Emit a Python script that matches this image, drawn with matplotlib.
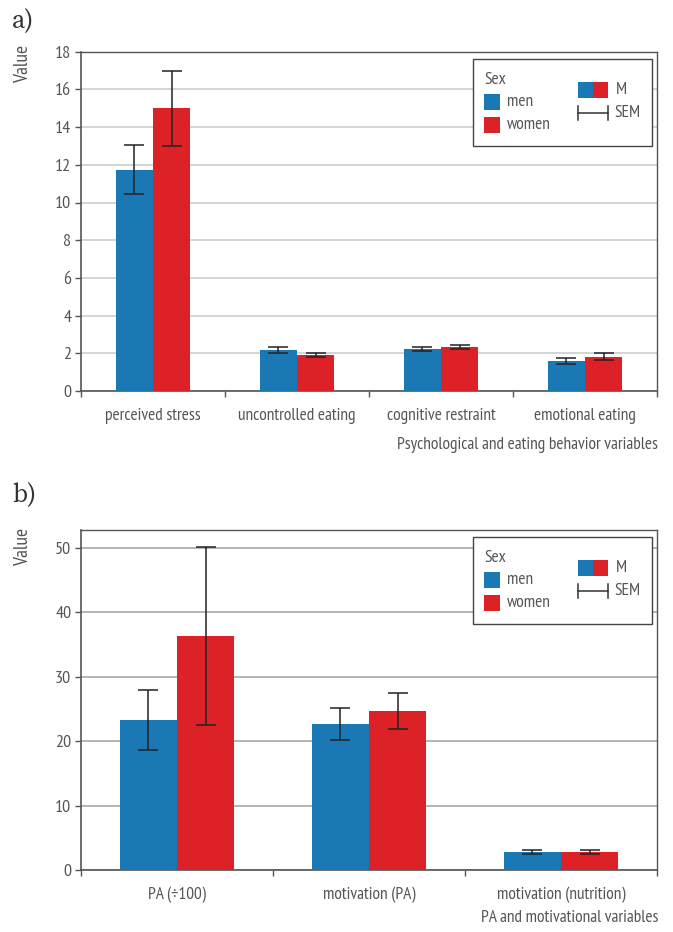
import matplotlib
matplotlib.use("Agg")
import matplotlib.pyplot as plt
from matplotlib.patches import Rectangle
import numpy as np

# ---- data ----
cats_a = ["perceived stress", "uncontrolled eating", "cognitive restraint", "emotional eating"]
men_a = [11.75, 2.18, 2.22, 1.59]
men_a_sem = [1.3, 0.15, 0.11, 0.17]
women_a = [15.0, 1.91, 2.33, 1.82]
women_a_sem = [2.0, 0.13, 0.12, 0.2]

cats_b = ["PA (\u00f7100)", "motivation (PA)", "motivation (nutrition)"]
men_b = [23.3, 22.7, 2.8]
men_b_sem = [4.7, 2.5, 0.3]
women_b = [36.3, 24.7, 2.8]
women_b_sem = [13.85, 2.8, 0.3]

yticks_a = [0, 2, 4, 6, 8, 10, 12, 14, 16, 18]
yticks_b = [0, 10, 20, 30, 40, 50]

xlabel_a = "Psychological and eating behavior variables"
xlabel_b = "PA and motivational variables"

BLUE = "#1a78b4"
RED = "#dc2227"
TXT = "#555555"

plt.rcParams["font.family"] = ["PT Sans Narrow", "DejaVu Sans"]
FS = 12.5

W, H = 673, 932
fig = plt.figure(figsize=(W / 100, H / 100), dpi=100)


def ax_rect(x0, y0, x1, y1):
    return [x0 / W, 1 - y1 / H, (x1 - x0) / W, (y1 - y0) / H]


def panel(rect, cats, men, men_sem, women, women_sem, ylim, yticks, xlabel, bw, letter, letter_y, xlab_y,
          grid_color, vlabel_off):
    ax = fig.add_axes(rect)
    n = len(cats)
    x = np.arange(n)
    ax.bar(x - bw / 2, men, bw, color=BLUE, zorder=3)
    ax.bar(x + bw / 2, women, bw, color=RED, zorder=3)
    ek = dict(fmt="none", ecolor="#222222", elinewidth=1.1, capsize=7, capthick=1.1, zorder=4)
    ax.errorbar(x - bw / 2, men, yerr=men_sem, **ek)
    ax.errorbar(x + bw / 2, women, yerr=women_sem, **ek)
    ax.set_xlim(-0.5, n - 0.5)
    ax.set_ylim(*ylim)
    ax.set_yticks(yticks)
    ax.yaxis.grid(True, color=grid_color, linewidth=1.2, zorder=0)
    ax.set_axisbelow(True)
    ax.set_xticks(np.arange(n + 1) - 0.5, minor=False)
    ax.set_xticklabels([])
    ax.set_xticks(x, minor=True)
    ax.set_xticklabels(cats, minor=True)
    ax.tick_params(axis="x", which="major", length=4, width=1, color="#555555", direction="out")
    ax.tick_params(axis="x", which="minor", length=0, pad=12, labelsize=FS, labelcolor=TXT)
    ax.tick_params(axis="y", length=4, width=1, color="#555555", labelsize=13, labelcolor=TXT, pad=3)
    for s in ["left", "bottom"]:
        ax.spines[s].set_color("#555555")
        ax.spines[s].set_linewidth(1.2)
    for s in ["top", "right"]:
        ax.spines[s].set_color("#555555")
        ax.spines[s].set_linewidth(1.0)
    ax.set_ylabel("Value", fontsize=14, color=TXT, rotation=90)
    ax.yaxis.set_label_coords(-0.10, 1.0 - vlabel_off / (rect[3] * H))
    ax.yaxis.label.set_va("center")
    fig.text(658 / W, 1 - xlab_y / H, xlabel, ha="right", va="center", fontsize=FS, color=TXT)
    fig.text(12 / W, 1 - letter_y / H, letter, ha="left", va="center", fontsize=19, color="#333333",
             family=["Source Serif 4", "Liberation Serif", "DejaVu Serif"])
    return ax


def legend(box):
    x0, y0, x1, y1 = box
    fx = lambda px: px / W
    fy = lambda py: 1 - py / H
    fig.patches.append(Rectangle((fx(x0), fy(y1)), (x1 - x0) / W, (y1 - y0) / H, transform=fig.transFigure,
                                 facecolor="white", edgecolor="#444444", linewidth=1.0, zorder=5))
    fig.text(fx(x0 + 11), fy(y0 + 21), "Sex", fontsize=FS, color=TXT, va="center", ha="left", zorder=6)
    for i, (c, lab) in enumerate([(BLUE, "men"), (RED, "women")]):
        yc = y0 + 43 + i * 23
        fig.patches.append(Rectangle((fx(x0 + 11), fy(yc + 8)), 16 / W, 16 / H, transform=fig.transFigure,
                                     facecolor=c, edgecolor="none", zorder=6))
        fig.text(fx(x0 + 34), fy(yc), lab, fontsize=FS, color=TXT, va="center", ha="left", zorder=6)
    yc = y0 + 31
    fig.patches.append(Rectangle((fx(x0 + 105), fy(yc + 8)), 15 / W, 16 / H, transform=fig.transFigure,
                                 facecolor=BLUE, edgecolor="none", zorder=6))
    fig.patches.append(Rectangle((fx(x0 + 120), fy(yc + 8)), 15 / W, 16 / H, transform=fig.transFigure,
                                 facecolor=RED, edgecolor="none", zorder=6))
    fig.text(fx(x0 + 143), fy(yc), "M", fontsize=FS, color=TXT, va="center", ha="left", zorder=6)
    yc = y0 + 54
    fig.add_artist(plt.Line2D([fx(x0 + 105), fx(x0 + 135)], [fy(yc), fy(yc)], color="#333333", lw=1.1,
                              transform=fig.transFigure, zorder=7))
    for xx in (x0 + 105, x0 + 135):
        fig.add_artist(plt.Line2D([fx(xx), fx(xx)], [fy(yc - 7), fy(yc + 7)], color="#333333", lw=1.1,
                                  transform=fig.transFigure, zorder=7))
    fig.text(fx(x0 + 141), fy(yc), "SEM", fontsize=FS, color=TXT, va="center", ha="left", zorder=6)


rect_a = ax_rect(81, 51.7, 657, 391)
ax_a = panel(rect_a, cats_a, men_a, men_a_sem, women_a, women_a_sem, (0, 18), yticks_a, xlabel_a,
             0.26, "a)", 22, 445, "#cdcdcd", 12)
legend((473, 59, 652, 146))

rect_b = ax_rect(81, 530, 657, 870)
top_b = 50 * (870 - 530) / (870 - 547.7)
ax_b = panel(rect_b, cats_b, men_b, men_b_sem, women_b, women_b_sem, (0, top_b), yticks_b, xlabel_b,
             0.297, "b)", 496, 918, "#a8a8a8", 17)
legend((473, 537, 652, 624))

fig.savefig("out.png", dpi=100)
